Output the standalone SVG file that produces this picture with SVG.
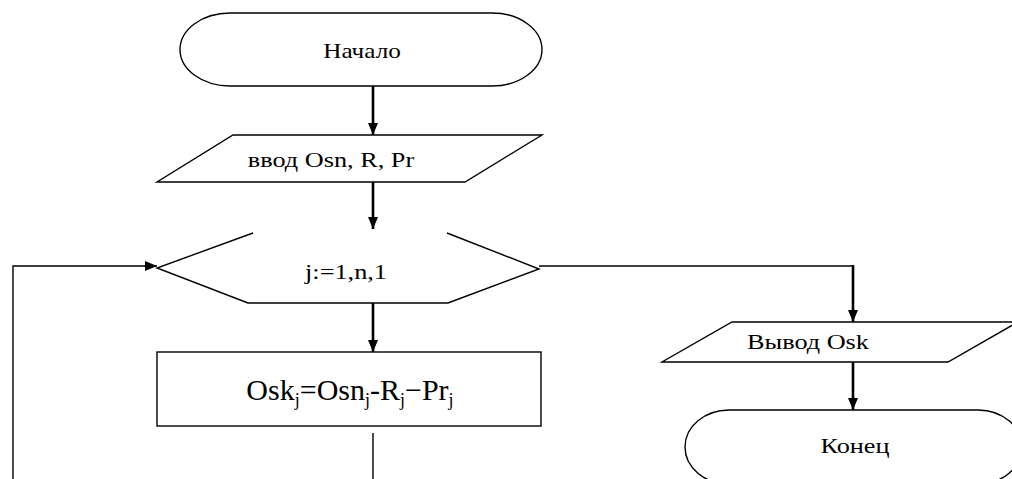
<svg xmlns="http://www.w3.org/2000/svg" width="1012" height="479" viewBox="0 0 1012 479">
<style>
.shape{fill:#fff;stroke:#000;stroke-width:1.4}
.thin{fill:none;stroke:#000;stroke-width:1.4}
.thick{fill:none;stroke:#000;stroke-width:2.6}
.t{font-family:"Liberation Serif","Times New Roman",serif;font-size:21px;fill:#000;text-anchor:middle}
.f{font-family:"Liberation Serif","Times New Roman",serif;font-size:30px;fill:#000;text-anchor:middle}
</style>
<defs>
<marker id="ah" markerWidth="12" markerHeight="10" refX="12" refY="5" orient="auto" markerUnits="userSpaceOnUse">
<path d="M0,0 L12,5 L0,10 Z" fill="#000"/>
</marker>
</defs>
<rect width="1012" height="479" fill="#fff"/>
<g id="connectors">
<line class="thick" x1="373" y1="86" x2="373" y2="135" marker-end="url(#ah)"/>
<line class="thick" x1="373" y1="182" x2="373" y2="229" marker-end="url(#ah)"/>
<line class="thick" x1="373" y1="303" x2="373" y2="352" marker-end="url(#ah)"/>
<polyline class="thin" points="373,433 373,479"/>
<polyline class="thin" points="13,479 13,266 157,266" marker-end="url(#ah)"/>
<polyline class="thin" points="539,266 853,266"/>
<line class="thick" x1="853" y1="265" x2="853" y2="322" marker-end="url(#ah)"/>
<line class="thick" x1="853" y1="362" x2="853" y2="410" marker-end="url(#ah)"/>
</g>
<g id="start">
<rect class="shape" x="180" y="13" width="362" height="73" rx="50" ry="36.5"/>
<text class="t" transform="translate(362,58) scale(1.2,1)" x="0" y="0">Начало</text>
</g>
<g id="input">
<polygon class="shape" points="233,135 542,135 465,182 157,182"/>
<text class="t" transform="translate(331,167) scale(1.25,1)" x="0" y="0">ввод Osn, R, Pr</text>
</g>
<g id="loop">
<polyline class="thin" points="253,233 157,268 248,303 448,303 539,269 447,233"/>
<text class="t" transform="translate(346,279) scale(1.25,1)" x="0" y="0">j:=1,n,1</text>
</g>
<g id="process">
<rect class="shape" x="157" y="352" width="384" height="74"/>
<text class="f" x="350" y="400">Osk<tspan font-size="18" dy="6">j</tspan><tspan dy="-6">=Osn</tspan><tspan font-size="18" dy="6">j</tspan><tspan dy="-6">-R</tspan><tspan font-size="18" dy="6">j</tspan><tspan dy="-6">−Pr</tspan><tspan font-size="18" dy="6">j</tspan></text>
</g>
<g id="output">
<polygon class="shape" points="732,322 1018,322 948,362 662,362"/>
<text class="t" transform="translate(808,349) scale(1.25,1)" x="0" y="0">Вывод Osk</text>
</g>
<g id="end">
<rect class="shape" x="685" y="410" width="337" height="74" rx="44" ry="37"/>
<text class="t" transform="translate(855,453) scale(1.25,1)" x="0" y="0">Конец</text>
</g>
</svg>
